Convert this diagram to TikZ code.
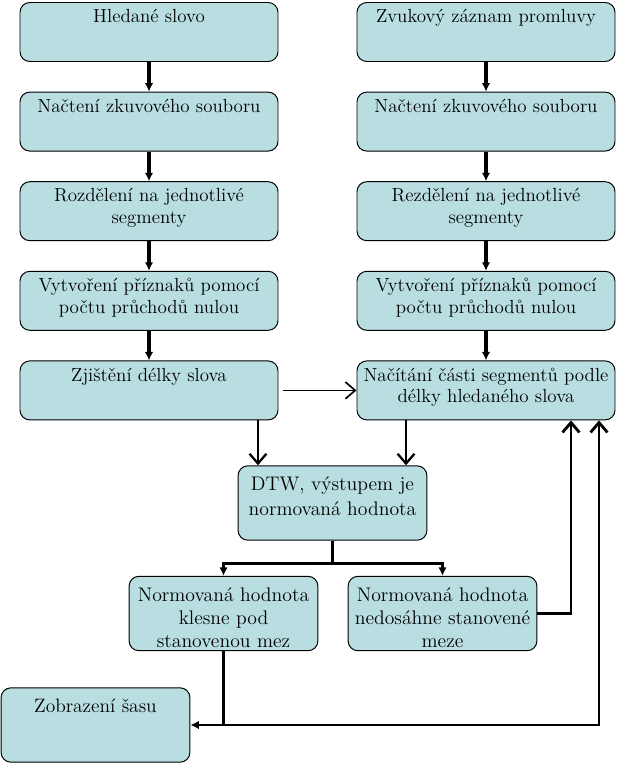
\documentclass[tikz,border=0pt]{standalone}
\usepackage{tikz}
\usetikzlibrary{shapes,arrows.meta,calc}
\definecolor{boxfill}{RGB}{184,222,226}
\tikzstyle{line} = [draw, line width=2.2pt, -{Latex[length=6pt,width=6pt]}]
\tikzstyle{openline} = [draw, line width=1.6pt, -{Straight Barb[length=7pt,width=12pt]}]
\tikzstyle{block} = [draw, line width=0.7pt, rectangle, rounded corners=7pt, fill=boxfill, inner sep=0pt]
\newcommand{\coltext}[1]{\parbox[c][1.475cm][t]{6.45cm}{\centering\fontsize{13.5}{15.2}\selectfont\vspace*{5pt}#1}}
\newcommand{\midtext}[3]{\parbox[c][1.86cm][t]{4.72cm}{\centering\fontsize{#1}{#2}\selectfont\vspace*{8pt}#3}}

\begin{document}
\begin{tikzpicture}[node distance = 2.24cm, auto]
        \useasboundingbox (0,0) rectangle (15.5,-19.3);
        % left column: searched word
        \node[block] at (3.725,-0.8) (hledane) {\coltext{Hledané slovo}};
        \node[block, below of=hledane] (nacteniL) {\coltext{Načtení zkuvového souboru}};
        \node[block, below of=nacteniL] (rozdeleniL) {\coltext{Rozdělení na jednotlivé\\segmenty}};
        \node[block, below of=rozdeleniL] (priznakyL) {\coltext{Vytvoření příznaků pomocí\\počtu průchodů nulou}};
        \node[block, below of=priznakyL] (delka) {\coltext{Zjištění délky slova}};
        % right column: recording
        \node[block] at (12.15,-0.8) (zaznam) {\coltext{Zvukový záznam promluvy}};
        \node[block, below of=zaznam] (nacteniR) {\coltext{Načtení zkuvového souboru}};
        \node[block, below of=nacteniR] (rozdeleniR) {\coltext{Rezdělení na jednotlivé\\segmenty}};
        \node[block, below of=rozdeleniR] (priznakyR) {\coltext{Vytvoření příznaků pomocí\\počtu průchodů nulou}};
        \node[block, below of=priznakyR] (nacitani) {\coltext{Načítání části segmentů podle\\délky hledaného slova}};
        % comparison
        \node[block] at (8.3125,-12.575) (dtw) {\midtext{14}{17.8}{DTW, výstupem je\\normovaná hodnota}};
        \node[block] at (5.5875,-15.3375) (klesne) {\midtext{14}{16.5}{Normovaná hodnota\\klesne pod\\stanovenou mez}};
        \node[block] at (11.0625,-15.3375) (nedosahne) {\midtext{14}{16.5}{Normovaná hodnota\\nedosáhne stanovené\\meze}};
        \node[block] at (2.3875,-18.125) (zobrazeni) {\midtext{13.8}{16}{Zobrazení šasu}};
        \coordinate (delkaout) at ([xshift=2.725cm]delka.south);
        \coordinate (nacitaniout) at ([xshift=-2cm]nacitani.south);
        \coordinate (split) at ($(dtw.south)+(0,-0.575)$);
        \coordinate (join) at (klesne.south |- zobrazeni.east);
        \coordinate (back1) at (14.275,0);
        \coordinate (back2) at (14.975,0);
        \path[line] (hledane) -- (nacteniL);
        \path[line] (nacteniL) -- (rozdeleniL);
        \path[line] (rozdeleniL) -- (priznakyL);
        \path[line] (priznakyL) -- (delka);
        \path[line] (zaznam) -- (nacteniR);
        \path[line] (nacteniR) -- (rozdeleniR);
        \path[line] (rozdeleniR) -- (priznakyR);
        \path[line] (priznakyR) -- (nacitani);
        \path[openline, line width=1.2pt, shorten <=0.12cm] (delka) -- (nacitani);
        \path[openline] (delkaout) -- (delkaout |- dtw.north);
        \path[openline] (nacitaniout) -- (nacitaniout |- dtw.north);
        \draw[line width=2.2pt] (dtw.south) -- (split);
        \path[line] (split) -| (klesne.north);
        \path[line] (split) -| (nedosahne.north);
        \path[openline, line width=2pt] (nedosahne.east) -| (back1 |- nacitani.south);
        \draw[line width=2.8pt] (klesne.south) -- (join);
        \path[line, line width=1.8pt] (join) -- (zobrazeni.east);
        \path[openline, line width=2pt] (join) -| (back2 |- nacitani.south);
    \end{tikzpicture}
\end{document}
